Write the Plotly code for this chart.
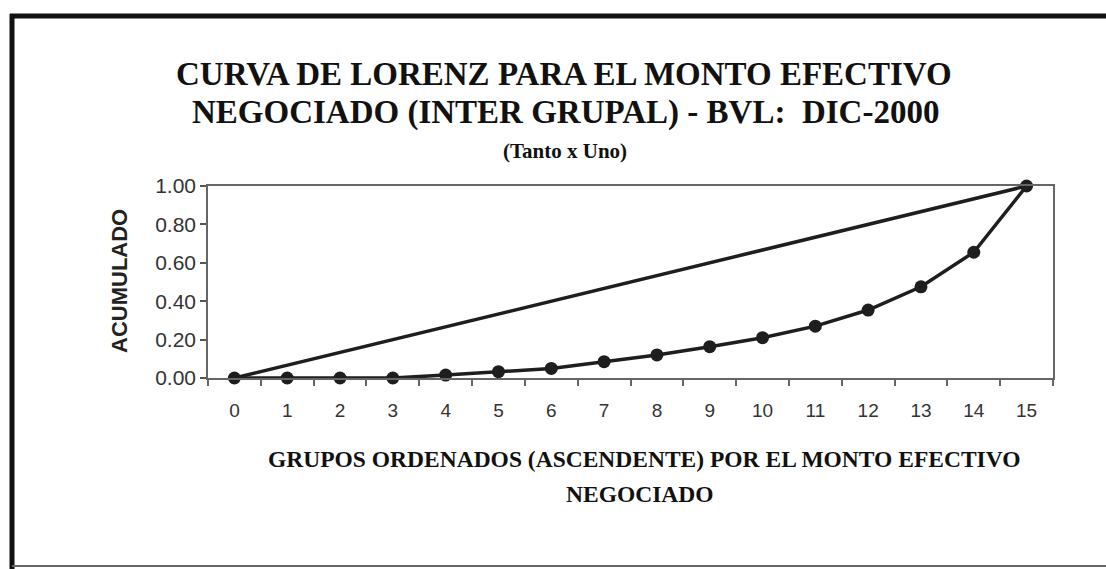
import plotly.graph_objects as go

grupos = list(range(16))
lorenz = [0.00, 0.00, 0.00, 0.00, 0.015, 0.033, 0.05, 0.085, 0.12, 0.163, 0.21, 0.27, 0.354, 0.475, 0.655, 1.00]
igualdad_x = [0, 15]
igualdad_y = [0.00, 1.00]
yticks = [0.0, 0.2, 0.4, 0.6, 0.8, 1.0]
boundaries = [i - 0.5 for i in range(17)]

W, H = 1106, 569
x0, x1 = 208, 1053
yt, yb = 186, 378

fig = go.Figure()
fig.add_trace(go.Scatter(x=igualdad_x, y=igualdad_y, mode="lines",
                         line=dict(color="#1e1e1e", width=3.5), cliponaxis=False,
                         showlegend=False))
fig.add_trace(go.Scatter(x=grupos, y=lorenz, mode="lines+markers",
                         line=dict(color="#1e1e1e", width=3.5),
                         marker=dict(color="#1e1e1e", size=13), cliponaxis=False,
                         showlegend=False))

serif = "Liberation Serif"
sans = "Liberation Sans"

def ann(text, xpx, ypx, size, family, bold=True):
    fig.add_annotation(text=f"<b>{text}</b>" if bold else text, x=xpx / W, y=1 - ypx / H,
                       xref="paper", yref="paper", showarrow=False,
                       xanchor="center", yanchor="middle",
                       font=dict(family=family, size=size, color="#111"))

ann("CURVA DE LORENZ PARA EL MONTO EFECTIVO", 564, 74, 33, serif)
ann("NEGOCIADO (INTER GRUPAL) - BVL:  DIC-2000", 565, 112, 33, serif)
ann("(Tanto x Uno)", 565, 151, 21, serif)
ann("GRUPOS ORDENADOS (ASCENDENTE) POR EL MONTO EFECTIVO", 644, 459, 23.5, serif)
ann("NEGOCIADO", 640, 494, 23.5, serif)

fig.add_annotation(text="<b>ACUMULADO</b>", x=119 / W, y=1 - 281 / H, xref="paper", yref="paper",
                   showarrow=False, textangle=-90, xanchor="center", yanchor="middle",
                   font=dict(family=sans, size=22, color="#222"))

# outer frame
fig.add_shape(type="line", xref="paper", yref="paper", x0=10 / W, x1=1.0, y0=1 - 16 / H, y1=1 - 16 / H,
              line=dict(color="#111", width=5))
fig.add_shape(type="line", xref="paper", yref="paper", x0=12 / W, x1=12 / W, y0=1 - 14 / H, y1=0,
              line=dict(color="#111", width=5))
fig.add_shape(type="line", xref="paper", yref="paper", x0=12 / W, x1=1.0, y0=1 - 566 / H, y1=1 - 566 / H,
              line=dict(color="#666", width=2))

fig.update_layout(
    width=W, height=H, autosize=False,
    margin=dict(l=0, r=0, t=0, b=0, pad=0),
    paper_bgcolor="white", plot_bgcolor="white",
    xaxis=dict(domain=[x0 / W, x1 / W], range=[-0.5, 15.5], tickvals=grupos, automargin=False,
               ticktext=[str(g) for g in grupos], ticks="", showgrid=False, zeroline=False,
               showline=True, linecolor="#666", linewidth=1.5, mirror=True,
               tickfont=dict(family=sans, size=19, color="#333"), ticklabelstandoff=14,
               minor=dict(tickvals=boundaries, ticks="outside", ticklen=6, tickcolor="#666", tickwidth=1.5,
                          showgrid=False)),
    yaxis=dict(domain=[1 - yb / H, 1 - yt / H], range=[0, 1], tickvals=yticks, automargin=False,
               ticktext=[f"{v:.2f}" for v in yticks], ticks="outside", ticklen=6, tickcolor="#555",
               tickwidth=1.5, showgrid=False, zeroline=False, showline=True, linecolor="#666",
               linewidth=1.5, mirror=True, tickfont=dict(family=sans, size=21, color="#333")),
)

fig.write_html("out.html", config={"displayModeBar": False},
               post_script="document.body.style.margin='0';document.body.style.overflow='hidden';")
